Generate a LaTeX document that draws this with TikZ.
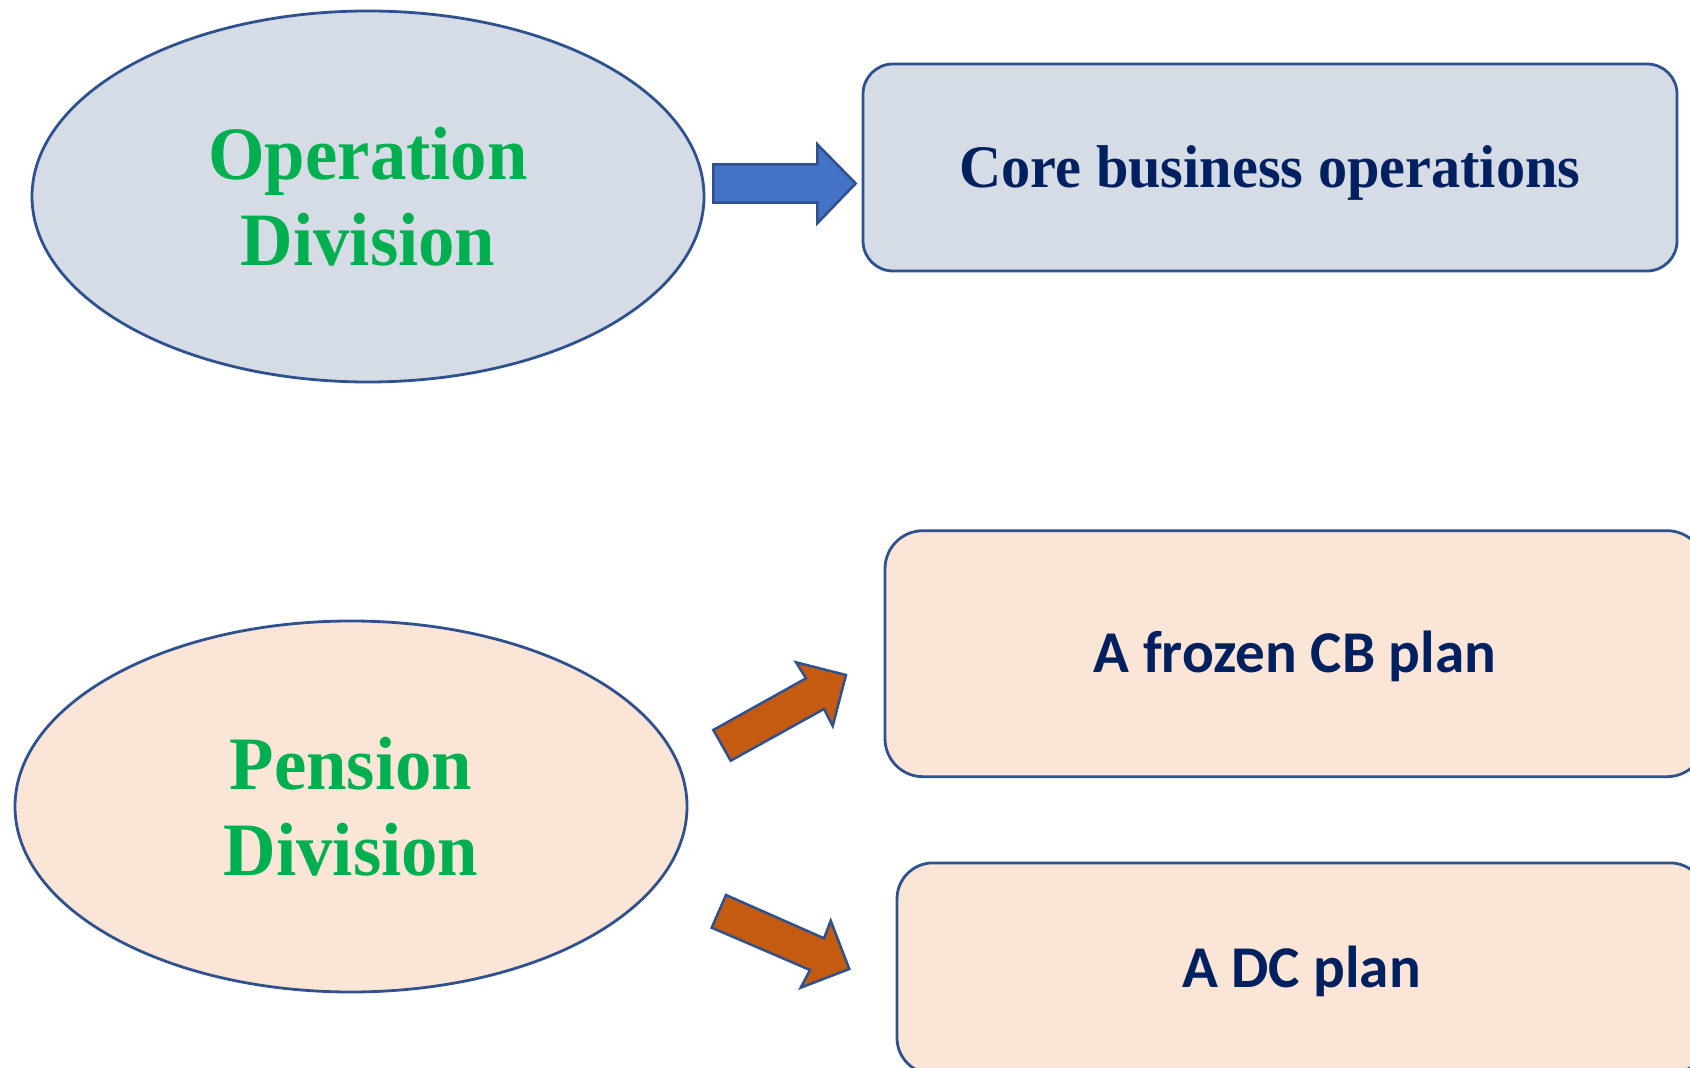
\documentclass[tikz,border=0pt]{standalone}
\usepackage{fontspec}
\setmainfont{Liberation Serif}
\newfontfamily\timesf[FakeStretch=0.965]{Liberation Serif}
\newfontfamily\calib{Carlito}
\usetikzlibrary{shapes.geometric}
\definecolor{outl}{HTML}{2F528F}
\definecolor{greyblue}{HTML}{D6DCE5}
\definecolor{peach}{HTML}{FBE5D6}
\definecolor{blk}{HTML}{4472C4}
\definecolor{orng}{HTML}{C55A11}
\definecolor{grn}{HTML}{00B050}
\definecolor{navy}{HTML}{002060}
\begin{document}
\begin{tikzpicture}[x=0.5pt,y=-0.5pt,
  division/.style={ellipse,draw=outl,line width=1.4pt,inner sep=0pt,
    minimum width=336pt,minimum height=185.5pt,align=center,text=grn,
    font=\timesf\bfseries\fontsize{37.7pt}{43pt}\selectfont},
  planbox/.style={rectangle,draw=outl,line width=1.4pt,inner sep=0pt,fill=peach,
    text=navy,text height=18.8pt,text depth=0pt,
    font=\calib\bfseries\fontsize{29.6pt}{34pt}\selectfont},
  blockarrow/.style={draw=outl,line width=1.25pt,line join=miter}]
\useasboundingbox (0,0) rectangle (1690,1068);
\fill[white] (0,0) rectangle (1690,1068);
\clip (0,0) rectangle (1690,1068);

% top row
\node[division,fill=greyblue] (opdiv) at (368,196.5) {Operation\\Division};
\node[rectangle,draw=outl,line width=1.4pt,inner sep=0pt,fill=greyblue,
  rounded corners=15pt,minimum width=407pt,minimum height=103.5pt,
  text=navy,text height=20pt,text depth=0pt,
  font=\timesf\bfseries\fontsize{30.2pt}{34pt}\selectfont]
  (core) at (1270,167.5) {Core business operations};

% bottom row
\node[division,fill=peach] (pendiv) at (351,806.5) {Pension\\Division};
\node[planbox,rounded corners=19pt,minimum width=410pt,minimum height=123pt]
  (cb) at (1295,653.7) {A frozen CB plan};
\node[planbox,rounded corners=18pt,minimum width=404.5pt,minimum height=105.5pt]
  (dc) at (1301.5,968.4) {A DC plan};

% block arrows
\filldraw[blockarrow,fill=blk]
  (713.3,164.3) -- (817.3,164.3) -- (817.3,144.3) -- (855.7,183.5)
  -- (817.3,223.3) -- (817.3,202.7) -- (713.3,202.7) -- cycle;
\filldraw[blockarrow,fill=orng]
  (713.3,730) -- (806,678.3) -- (796,662.3) -- (846,675)
  -- (832.7,726) -- (824,709) -- (730.7,760.7) -- cycle;
\filldraw[blockarrow,fill=orng]
  (726,895) -- (824,938.3) -- (830.7,920.7) -- (849.3,969)
  -- (800.7,987.7) -- (810,970) -- (711.7,927.7) -- cycle;
\end{tikzpicture}
\end{document}
